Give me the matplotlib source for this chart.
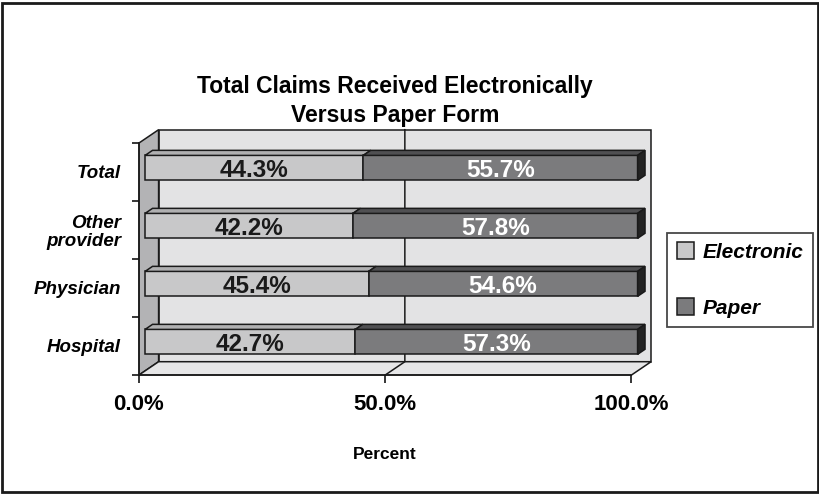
import numpy as np
import matplotlib
matplotlib.use("Agg")
import matplotlib.pyplot as plt
from matplotlib.patches import Polygon, Rectangle, Patch
from matplotlib.transforms import IdentityTransform, ScaledTranslation

categories = ["Hospital", "Physician", "Other\nprovider", "Total"]
electronic = [42.7, 45.4, 42.2, 44.3]
paper = [57.3, 54.6, 57.8, 55.7]
series_names = ["Electronic", "Paper"]
xticks = [0, 50, 100]
xtick_labels = ["0.0%", "50.0%", "100.0%"]

W, H = 820, 494
fig = plt.figure(figsize=(W / 100, H / 100), dpi=100)

plain = ["Liberation Sans", "DejaVu Sans"]

# front plane of the 3-D box (pixels from top-left)
x0, x1 = 139, 631.5
ytop, ybot = 143, 375
ax = fig.add_axes([x0 / W, 1 - ybot / H, (x1 - x0) / W, (ybot - ytop) / H])
ax.set_xlim(0, 100)
ax.set_ylim(-0.5, 3.5)
ax.patch.set_visible(False)

DX, DY = 19.6, 13.3          # depth offset of the back wall, pixels
bar_d0, bar_d1 = 0.31, 0.69  # bars sit in the middle of the depth
bar_h = 0.43

c_elec, c_elec_top = "#c8c8c9", "#b0b0b1"
c_paper, c_paper_top, c_paper_end = "#7b7b7d", "#505052", "#232323"


def proj(x, y, d):
    px, py = ax.transData.transform((x, y))
    return (px + DX * d, py + DY * d)


def face(pts, fc, z, lw=1.1):
    ax.add_patch(Polygon(pts, closed=True, facecolor=fc, edgecolor="#1a1a1a",
                         lw=lw, transform=IdentityTransform(), clip_on=False,
                         zorder=z, joinstyle="miter"))


def shifted(d):
    return ax.transData + ScaledTranslation(DX * d / 100, DY * d / 100,
                                            fig.dpi_scale_trans)


# walls and floor
face([proj(0, -0.5, 1), proj(100, -0.5, 1), proj(100, 3.5, 1), proj(0, 3.5, 1)],
     "#e3e3e4", 0.1)
face([proj(0, -0.5, 0), proj(0, -0.5, 1), proj(0, 3.5, 1), proj(0, 3.5, 0)],
     "#b3b3b5", 0.2)
face([proj(0, -0.5, 0), proj(100, -0.5, 0), proj(100, -0.5, 1), proj(0, -0.5, 1)],
     "#e6e6e7", 0.2)

# gridline at 50%
g = [proj(50, -0.5, 0), proj(50, -0.5, 1), proj(50, 3.5, 1)]
ax.plot([p[0] for p in g], [p[1] for p in g], color="#1a1a1a", lw=1.1,
        transform=IdentityTransform(), clip_on=False, zorder=0.3)

# stacked 3-D bars
for i in range(len(categories)):
    segs = [(0, electronic[i], c_elec, c_elec_top, "#1a1a1a"),
            (electronic[i], paper[i], c_paper, c_paper_top, "white")]
    yt = i + bar_h / 2
    for left, w, fc, tc, txt in segs:
        ax.barh(i, w, left=left, height=bar_h, color=fc, edgecolor="#1a1a1a",
                lw=1.1, transform=shifted(bar_d0), clip_on=False, zorder=3)
        face([proj(left, yt, bar_d0), proj(left + w, yt, bar_d0),
              proj(left + w, yt, bar_d1), proj(left, yt, bar_d1)], tc, 3)
        ax.text(left + w / 2, i - 0.04, f"{w:.1f}%", transform=shifted(bar_d0),
                ha="center", va="center", color=txt, fontsize=17.5,
                fontweight="bold", family=plain, zorder=4)
    end = electronic[i] + paper[i]
    face([proj(end, i - bar_h / 2, bar_d0), proj(end, yt, bar_d0),
          proj(end, yt, bar_d1), proj(end, i - bar_h / 2, bar_d1)], c_paper_end, 3)

# axes
for s in ["top", "right"]:
    ax.spines[s].set_visible(False)
for s in ["left", "bottom"]:
    ax.spines[s].set_linewidth(1.1)
    ax.spines[s].set_color("#1a1a1a")
ax.set_xticks(xticks, xtick_labels)
ax.set_yticks(np.arange(-0.5, len(categories), 1.0), [])
ax.set_yticks(range(len(categories)), categories, minor=True)
ax.tick_params(axis="x", direction="out", length=6, width=1.1, pad=8,
               labelsize=16)
ax.tick_params(axis="y", which="major", direction="out", length=5, width=1.1)
ax.tick_params(axis="y", which="minor", length=0, pad=13, labelsize=13.5)
for lab in ax.get_xticklabels():
    lab.set_fontweight("bold")
    lab.set_family(plain)
for lab in ax.get_yticklabels(minor=True):
    lab.set_fontweight("bold")
    lab.set_fontstyle("italic")
    lab.set_family(plain)
    lab.set_linespacing(1.05)
ax.set_xlabel("Percent", fontsize=12.5, fontweight="bold", family=plain,
              labelpad=23)

fig.text(395 / W, 1 - 101 / H,
         "Total Claims Received Electronically\nVersus Paper Form",
         ha="center", va="center", fontsize=16.5, fontweight="bold",
         family=plain, linespacing=1.35)

handles = [Patch(facecolor=c_elec, edgecolor="#1a1a1a", lw=1.1),
           Patch(facecolor=c_paper, edgecolor="#1a1a1a", lw=1.1)]
leg = fig.legend(handles, series_names, loc="center",
                 bbox_to_anchor=(740 / W, 1 - 280 / H), frameon=True,
                 fancybox=False, handlelength=0.85, handleheight=0.85,
                 handletextpad=0.4, labelspacing=1.75, borderpad=0.45,
                 borderaxespad=0,
                 prop={"family": plain, "weight": "bold", "style": "italic",
                       "size": 15})
leg.get_frame().set_edgecolor("#1a1a1a")
leg.get_frame().set_linewidth(1.3)

fig.add_artist(Rectangle((2 / W, 2 / H), (W - 4) / W, (H - 5) / H,
                         transform=fig.transFigure, fill=False, lw=2,
                         ec="#1a1a1a"))

fig.savefig("out.png", dpi=100)
